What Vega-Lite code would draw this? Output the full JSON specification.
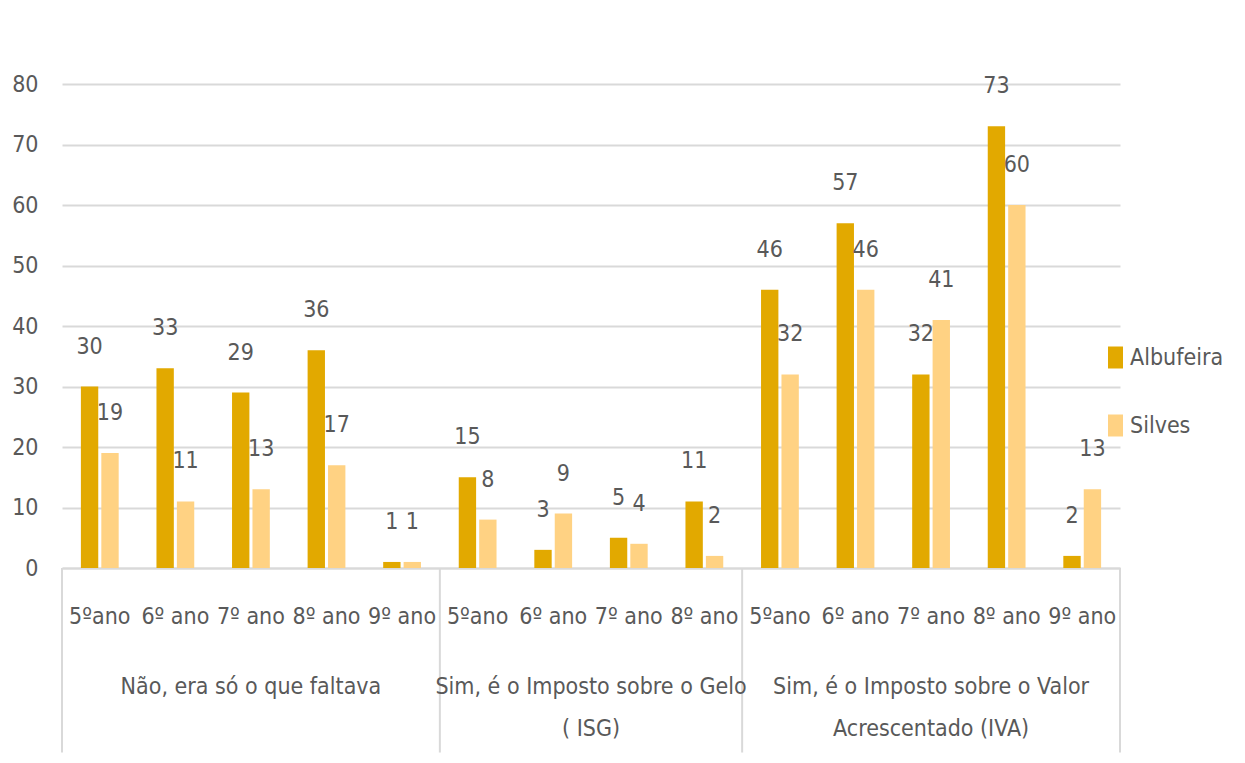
{
  "$schema": "https://vega.github.io/schema/vega-lite/v6.json",
  "autosize": "none",
  "width": 1058,
  "height": 484,
  "padding": {"left": 62, "top": 84, "right": 125, "bottom": 195},
  "background": "white",
  "config": {
    "view": {"stroke": null},
    "font": "DejaVu Sans Condensed, sans-serif",
    "text": {"font": "DejaVu Sans Condensed, sans-serif"}
  },
  "datasets": {
    "bars": [
      {"key": "N|5ºano", "serie": "Albufeira", "valor": 30},
      {"key": "N|5ºano", "serie": "Silves", "valor": 19},
      {"key": "N|6º ano", "serie": "Albufeira", "valor": 33},
      {"key": "N|6º ano", "serie": "Silves", "valor": 11},
      {"key": "N|7º ano", "serie": "Albufeira", "valor": 29},
      {"key": "N|7º ano", "serie": "Silves", "valor": 13},
      {"key": "N|8º ano", "serie": "Albufeira", "valor": 36},
      {"key": "N|8º ano", "serie": "Silves", "valor": 17},
      {"key": "N|9º ano", "serie": "Albufeira", "valor": 1},
      {"key": "N|9º ano", "serie": "Silves", "valor": 1},
      {"key": "G|5ºano", "serie": "Albufeira", "valor": 15},
      {"key": "G|5ºano", "serie": "Silves", "valor": 8},
      {"key": "G|6º ano", "serie": "Albufeira", "valor": 3},
      {"key": "G|6º ano", "serie": "Silves", "valor": 9},
      {"key": "G|7º ano", "serie": "Albufeira", "valor": 5},
      {"key": "G|7º ano", "serie": "Silves", "valor": 4},
      {"key": "G|8º ano", "serie": "Albufeira", "valor": 11},
      {"key": "G|8º ano", "serie": "Silves", "valor": 2},
      {"key": "V|5ºano", "serie": "Albufeira", "valor": 46},
      {"key": "V|5ºano", "serie": "Silves", "valor": 32},
      {"key": "V|6º ano", "serie": "Albufeira", "valor": 57},
      {"key": "V|6º ano", "serie": "Silves", "valor": 46},
      {"key": "V|7º ano", "serie": "Albufeira", "valor": 32},
      {"key": "V|7º ano", "serie": "Silves", "valor": 41},
      {"key": "V|8º ano", "serie": "Albufeira", "valor": 73},
      {"key": "V|8º ano", "serie": "Silves", "valor": 60},
      {"key": "V|9º ano", "serie": "Albufeira", "valor": 2},
      {"key": "V|9º ano", "serie": "Silves", "valor": 13}
    ],
    "starts": [
      {"key": "N|5ºano"},
      {"key": "G|5ºano"},
      {"key": "V|5ºano"}
    ],
    "ends": [
      {"key": "V|9º ano"}
    ],
    "groupsOdd": [
      {"key": "N|7º ano", "label": "Não, era só o que faltava"},
      {"key": "V|7º ano", "label": "Sim, é o Imposto sobre o Valor\nAcrescentado (IVA)"}
    ],
    "groupsEven": [
      {"key": "G|6º ano", "label": "Sim, é o Imposto sobre o Gelo\n( ISG)"}
    ]
  },
  "layer": [
    {
      "data": {"name": "bars"},
      "mark": {"type": "bar"},
      "encoding": {
        "x": {
          "field": "key", "type": "nominal",
          "scale": {
            "domain": ["N|5ºano", "N|6º ano", "N|7º ano", "N|8º ano", "N|9º ano", "G|5ºano", "G|6º ano", "G|7º ano", "G|8º ano", "V|5ºano", "V|6º ano", "V|7º ano", "V|8º ano", "V|9º ano"],
            "paddingInner": 0.5, "paddingOuter": 0.25
          },
          "axis": {
            "title": null, "labelExpr": "split(datum.label, '|')[1]", "labelAngle": 0,
            "ticks": false, "domainColor": "#D9D9D9", "domainWidth": 2,
            "labelFontSize": 23, "labelColor": "#595959", "labelPadding": 37
          }
        },
        "xOffset": {"field": "serie", "type": "nominal", "sort": ["Albufeira", "Silves"], "scale": {"paddingInner": 0.15}},
        "y": {
          "field": "valor", "type": "quantitative",
          "scale": {"domain": [0, 80], "nice": false},
          "axis": {
            "title": null, "values": [0, 10, 20, 30, 40, 50, 60, 70, 80],
            "grid": true, "gridColor": "#D9D9D9", "gridWidth": 2,
            "domain": false, "ticks": false,
            "labelFontSize": 23, "labelColor": "#595959", "labelPadding": 24
          }
        },
        "color": {
          "field": "serie", "type": "nominal",
          "scale": {"domain": ["Albufeira", "Silves"], "range": ["#E2A900", "#FFD283"]},
          "legend": {
            "title": null, "orient": "none", "legendX": 1042, "legendY": 262,
            "labelFontSize": 23, "labelColor": "#595959", "labelLimit": 0,
            "symbolType": "M-0.68,-1H0.68V1H-0.68Z", "symbolSize": 484, "symbolStrokeWidth": 0,
            "rowPadding": 44, "labelOffset": 3
          }
        }
      }
    },
    {
      "data": {"name": "bars"},
      "mark": {"type": "text", "dy": -40, "fontSize": 23, "color": "#595959", "baseline": "middle"},
      "encoding": {
        "x": {"field": "key", "type": "nominal"},
        "xOffset": {"field": "serie", "type": "nominal", "sort": ["Albufeira", "Silves"]},
        "y": {"field": "valor", "type": "quantitative"},
        "text": {"field": "valor", "type": "quantitative"}
      }
    },
    {
      "data": {"name": "starts"},
      "mark": {"type": "rule", "color": "#D9D9D9", "strokeWidth": 2},
      "encoding": {
        "x": {"field": "key", "type": "nominal", "bandPosition": -0.5},
        "y": {"datum": 0, "type": "quantitative"},
        "y2": {"datum": -30.5}
      }
    },
    {
      "data": {"name": "ends"},
      "mark": {"type": "rule", "color": "#D9D9D9", "strokeWidth": 2},
      "encoding": {
        "x": {"field": "key", "type": "nominal", "bandPosition": 1.5},
        "y": {"datum": 0, "type": "quantitative"},
        "y2": {"datum": -30.5}
      }
    },
    {
      "data": {"name": "groupsOdd"},
      "mark": {"type": "text", "fontSize": 23, "color": "#595959", "baseline": "top", "lineBreak": "\n", "lineHeight": 42},
      "encoding": {
        "x": {"field": "key", "type": "nominal", "bandPosition": 0.5},
        "y": {"datum": -17.8, "type": "quantitative"},
        "text": {"field": "label", "type": "nominal"}
      }
    },
    {
      "data": {"name": "groupsEven"},
      "mark": {"type": "text", "fontSize": 23, "color": "#595959", "baseline": "top", "lineBreak": "\n", "lineHeight": 42},
      "encoding": {
        "x": {"field": "key", "type": "nominal", "bandPosition": 1.5},
        "y": {"datum": -17.8, "type": "quantitative"},
        "text": {"field": "label", "type": "nominal"}
      }
    }
  ]
}
